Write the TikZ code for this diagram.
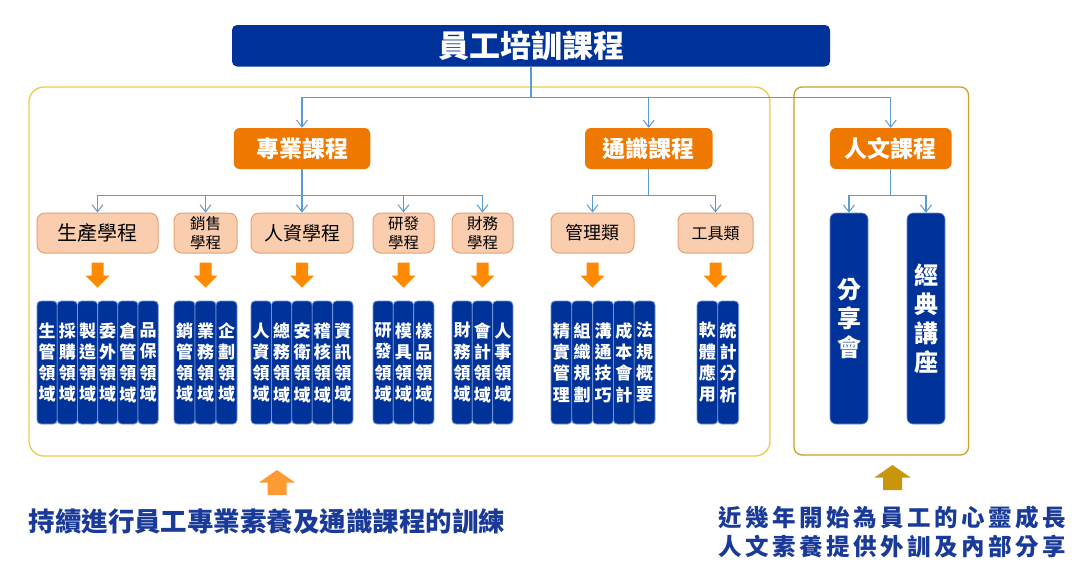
\documentclass[tikz,border=0pt]{standalone}
\usepackage{fontspec}
\setmainfont{Noto Sans CJK TC}
\usetikzlibrary{arrows.meta,calc}
\definecolor{navy}{HTML}{003399}
\definecolor{orangeA}{HTML}{EF7800}
\definecolor{peach}{HTML}{F9CDAE}
\definecolor{peachdraw}{HTML}{E9A070}
\definecolor{treeblue}{HTML}{5B9BD5}
\definecolor{colsep}{HTML}{7090D0}
\definecolor{boxgold}{HTML}{F2C94C}
\definecolor{boxgoldB}{HTML}{C9A227}
\definecolor{arrowor}{HTML}{FF8A00}
\definecolor{arrowup}{HTML}{FF9933}
\definecolor{arrowgold}{HTML}{C8960A}
\definecolor{txtblue}{HTML}{1A3A99}
\newcommand\mkcolgroup[4]{%
  \foreach \t [count=\i] in {#4} {%
    \node[colbox, minimum width=#3] (#1-\i) at ({#2+(\i-0.5)*#3},362.5) {\t};}}
\begin{document}
\begin{tikzpicture}[x=1pt,y=-1pt,
  titlebox/.style={fill=navy, rounded corners=5, text=white, inner sep=0,
    font=\bfseries\fontsize{31}{31}\selectfont},
  lone/.style={fill=orangeA, rounded corners=6, text=white, inner sep=0,
    minimum height=41, font=\bfseries\fontsize{23}{23}\selectfont},
  ltwo/.style={fill=peach, draw=peachdraw, line width=1, rounded corners=8,
    text=black, inner sep=0, minimum height=40, align=center},
  colbox/.style={fill=navy, draw=colsep, line width=0.8, rounded corners=4,
    minimum height=123, text=white, inner sep=0, align=center,
    font=\bfseries\fontsize{17}{21.3}\selectfont},
  tallbox/.style={fill=navy, draw=colsep, line width=0.6, rounded corners=6,
    minimum height=211, minimum width=38, text=white, inner sep=0, align=center,
    font=\bfseries\fontsize{24}{29}\selectfont},
  tree/.style={draw=treeblue, line width=1.1},
  treearrow/.style={tree, -{Straight Barb[length=7,width=11,line width=1]}},
  container/.style={rounded corners=#1, line width=1.3, inner sep=0},
  darrow/.pic={\fill[arrowor] (-6,0) -- (6,0) -- (6,13) -- (12,13) -- (0,25)
     -- (-12,13) -- (-6,13) -- cycle;},
  uarrow/.pic={\fill (-9.5,25) -- (9.5,25) -- (9.5,12.5) -- (18,12.5) -- (0,0)
     -- (-18,12.5) -- (-9.5,12.5) -- cycle;}
]
\useasboundingbox (0,0) rectangle (1080,582);
\fill[white] (0,0) rectangle (1080,582);

% containers
\node[container=15, draw=boxgold, minimum width=741, minimum height=369] (lbox) at (399.5,271.5) {};
\node[container=8, draw=boxgoldB, minimum width=174.5, minimum height=368] (rbox) at (881.25,271) {};

% title
\node[titlebox, minimum width=598, minimum height=41.5] (title) at (531,45.75) {員工培訓課程};

% level 1
\node[lone, minimum width=136.5] (zy) at (302,148.5) {專業課程};
\node[lone, minimum width=127.5] (ts) at (648.75,148.5) {通識課程};
\node[lone, minimum width=121.5] (rw) at (890.75,148.5) {人文課程};

% level 2
\node[ltwo, minimum width=121, font=\fontsize{20}{20}\selectfont] (sc) at (97.5,233) {生產學程};
\node[ltwo, minimum width=63, font=\fontsize{15.5}{19}\selectfont] (xs) at (205.5,233) {銷售\\學程};
\node[ltwo, minimum width=102, font=\fontsize{19}{19}\selectfont] (rz) at (302,233) {人資學程};
\node[ltwo, minimum width=61, font=\fontsize{15.5}{19}\selectfont] (yf) at (403.5,233) {研發\\學程};
\node[ltwo, minimum width=61, font=\fontsize{15.5}{19}\selectfont] (cw) at (482.5,233) {財務\\學程};
\node[ltwo, minimum width=83, font=\fontsize{18}{18}\selectfont] (gl) at (592.5,233) {管理類};
\node[ltwo, minimum width=75, font=\fontsize{16}{16}\selectfont] (gj) at (715.5,233) {工具類};

% humanities columns
\node[tallbox] (fx) at (849,318.5) {分\\享\\會};
\node[tallbox] (jd) at (926,318.5) {經\\典\\講\\座};

% tree connectors
\coordinate (j) at (531,97.5);
\draw[tree] (title.south) -- (j);
\foreach \n in {zy,ts,rw} \draw[treearrow] (j) -| (\n.north);
\coordinate (zyb) at ($(zy.south)+(0,26)$);
\draw[tree] (zy.south) -- (zyb);
\foreach \n in {sc,xs,rz,yf,cw} \draw[treearrow] (zyb) -| (\n.north);
\coordinate (tsb) at ($(ts.south)+(0,26)$);
\draw[tree] (ts.south) -- (tsb);
\foreach \n in {gl,gj} \draw[treearrow] (tsb) -| (\n.north);
\coordinate (rwb) at ($(rw.south)+(0,26)$);
\draw[tree] (rw.south) -- (rwb);
\foreach \n in {fx,jd} \draw[treearrow] (rwb) -| (\n.north);

% orange down arrows
\foreach \n in {sc,xs,rz,yf,cw,gl,gj} \pic at ($(\n.south)+(0,9)$) {darrow};

% level 3 columns
\mkcolgroup{a}{37}{20.2}{{生\\管\\領\\域},{採\\購\\領\\域},{製\\造\\領\\域},{委\\外\\領\\域},{倉\\管\\領\\域},{品\\保\\領\\域}}
\mkcolgroup{b}{174}{21}{{銷\\管\\領\\域},{業\\務\\領\\域},{企\\劃\\領\\域}}
\mkcolgroup{c}{251}{20.4}{{人\\資\\領\\域},{總\\務\\領\\域},{安\\衛\\領\\域},{稽\\核\\領\\域},{資\\訊\\領\\域}}
\mkcolgroup{d}{373}{20.3}{{研\\發\\領\\域},{模\\具\\領\\域},{樣\\品\\領\\域}}
\mkcolgroup{e}{452}{20.3}{{財\\務\\領\\域},{會\\計\\領\\域},{人\\事\\領\\域}}
\mkcolgroup{f}{551}{20.8}{{精\\實\\管\\理},{組\\織\\規\\劃},{溝\\通\\技\\巧},{成\\本\\會\\計},{法\\規\\概\\要}}
\mkcolgroup{g}{697}{20.8}{{軟\\體\\應\\用},{統\\計\\分\\析}}

% bottom arrows and captions
\pic[arrowup] at (277,470) {uarrow};
\pic[arrowgold] at (892.5,465) {uarrow};
\node[text=txtblue, inner sep=0, font=\bfseries\fontsize{26.5}{26.5}\selectfont] (capL) at (267,522) {持續進行員工專業素養及通識課程的訓練};
\node[text=txtblue, inner sep=0, align=center, font=\bfseries\fontsize{23.5}{29}\selectfont\addfontfeature{LetterSpace=15}] (capR) at (892,532.5) {近幾年開始為員工的心靈成長\\人文素養提供外訓及內部分享};
\end{tikzpicture}
\end{document}
